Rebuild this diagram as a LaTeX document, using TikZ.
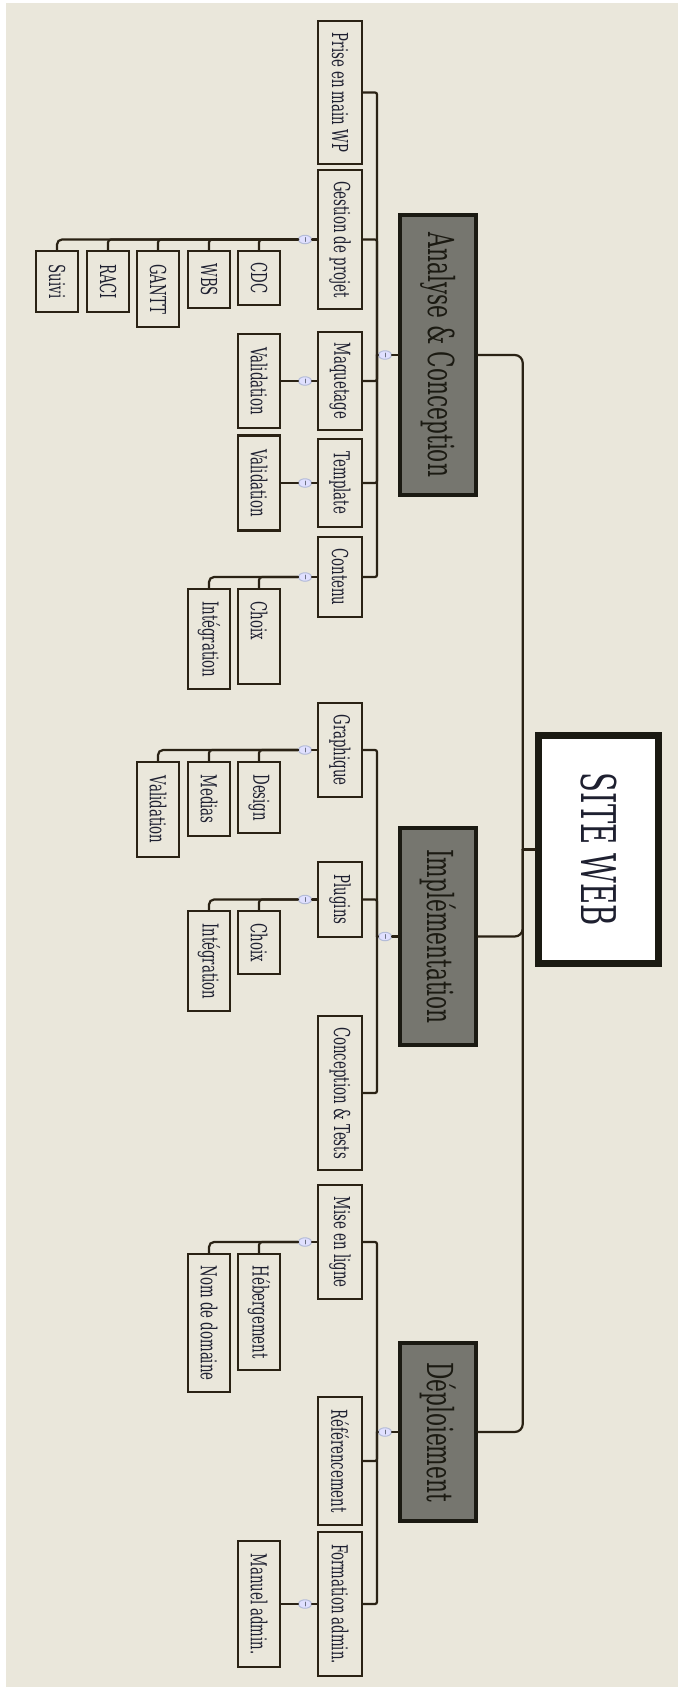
\documentclass[tikz,border=0pt]{standalone}
\usepackage{fontspec}
\setmainfont{DejaVu Serif}
\usepackage{graphicx}
\usepackage{xcolor}
\definecolor{paper}{HTML}{EAE7DB}
\definecolor{inkbrown}{HTML}{2A2214}
\definecolor{phasegrey}{HTML}{76766F}
\definecolor{phaseline}{HTML}{1B1A12}
\definecolor{textblue}{HTML}{1E2030}
\definecolor{knobline}{HTML}{B4BCD8}
\usetikzlibrary{positioning,shapes.geometric}
\newcommand{\vt}[1]{\rotatebox{-90}{\scalebox{1}[1.65]{#1}}}

\begin{document}
\begin{tikzpicture}[x=1pt, y=-1pt, line cap=round, link/.style={draw=inkbrown, line width=2.2pt},]
   \tikzstyle{every node}=[inner sep=0pt, text=textblue]
   \tikzstyle{topic}=[rectangle, draw=phaseline, line width=7.5pt, fill=white, minimum width=120, font=\fontsize{29}{34}\selectfont]
   \tikzstyle{phase}=[rectangle, draw=phaseline, line width=4pt, fill=phasegrey, minimum width=76, text=phaseline, font=\fontsize{21.7}{26}\selectfont]
   \tikzstyle{task}=[rectangle, draw=inkbrown, line width=2.4pt, minimum width=43.5, font=\fontsize{13.3}{16}\selectfont]
   \tikzstyle{leaf}=[task, minimum width=42.5]
   \tikzstyle{knob}=[ellipse, draw=knobline, fill=white!88!blue, line width=1pt, minimum width=13pt, minimum height=8.5pt, path picture={\draw[knobline!60!black, line width=.9pt] ([yshift=-2pt]path picture bounding box.center) -- ([yshift=2pt]path picture bounding box.center);}]

   \useasboundingbox (0,0) rectangle (678,1687);
   \fill[white] (0,0) rectangle (678,1687);
   \fill[paper] (6,3) rectangle (678,1687);

   % root and phases
   \node[topic, minimum height=228] (site) at (598.5,849.5) {\vt{SITE WEB}};
   \node[phase, minimum height=280] (analyse) at (438,355) {\vt{Analyse \& Conception}};
   \node[phase, minimum height=217] (impl) at (438,936.5) {\vt{Implémentation}};
   \node[phase, minimum height=178] (deploi) at (438,1432) {\vt{Déploiement}};

   \node[knob] (adot) at (385,355) {};
   \node[knob] (idot) at (385,936.5) {};
   \node[knob] (ddot) at (385,1432) {};

   % tasks
   \node[task, minimum height=143] (prise) at (340,92.5) {\vt{Prise en main WP}};
   \node[task, minimum height=139] (gestion) at (340,239.5) {\vt{Gestion de projet}};
   \node[task, minimum height=98] (maquette) at (340,381) {\vt{Maquetage}};
   \node[task, minimum height=88] (template) at (340,483) {\vt{Template}};
   \node[task, minimum height=80] (contenu) at (340,577) {\vt{Contenu}};
   \node[task, minimum height=94] (graphique) at (340,750) {\vt{Graphique}};
   \node[task, minimum height=75] (plugins) at (340,899.5) {\vt{Plugins}};
   \node[task, minimum height=154] (conctests) at (340,1093) {\vt{Conception \& Tests}};
   \node[task, minimum height=114] (miseligne) at (340,1242) {\vt{Mise en ligne}};
   \node[task, minimum height=128] (referenc) at (340,1461) {\vt{Référencement}};
   \node[task, minimum height=144] (formation) at (340,1604) {\vt{Formation admin.}};

   \node[knob] (gdot) at (305,239.5) {};
   \node[knob] (mdot) at (305,381) {};
   \node[knob] (tdot) at (305,483) {};
   \node[knob] (cdot) at (305,577) {};
   \node[knob] (grdot) at (305,750) {};
   \node[knob] (pdot) at (305,899.5) {};
   \node[knob] (mldot) at (305,1242) {};
   \node[knob] (fdot) at (305,1604) {};

   % leaves
   \node[leaf, anchor=north, minimum height=54] (cdc) at (259,250) {\vt{CDC}};
   \node[leaf, anchor=north, minimum height=57] (wbs) at (209,250) {\vt{WBS}};
   \node[leaf, anchor=north, minimum height=76] (gantt) at (158,250) {\vt{GANTT}};
   \node[leaf, anchor=north, minimum height=61] (raci) at (108,250) {\vt{RACI}};
   \node[leaf, anchor=north, minimum height=61] (suivi) at (57,250) {\vt{Suivi}};
   \node[leaf, minimum height=94] (maqvalid) at (259,381) {\vt{Validation}};
   \node[leaf, minimum height=95] (tplvalid) at (259,483) {\vt{Validation}};
   \node[leaf, anchor=north, minimum height=95] (ctchoix) at (259,588) {\vt{\makebox[70pt][l]{Choix}}};
   \node[leaf, anchor=north, minimum height=100] (ctinteg) at (209,588) {\vt{Intégration}};
   \node[leaf, anchor=north, minimum height=71] (design) at (259,761) {\vt{Design}};
   \node[leaf, anchor=north, minimum height=74] (medias) at (209,761) {\vt{Medias}};
   \node[leaf, anchor=north, minimum height=95] (grvalid) at (158,761) {\vt{Validation}};
   \node[leaf, anchor=north, minimum height=63] (plchoix) at (259,910) {\vt{Choix}};
   \node[leaf, anchor=north, minimum height=100] (plinteg) at (209,910) {\vt{Intégration}};
   \node[leaf, anchor=north, minimum height=116] (heberg) at (259,1253) {\vt{Hébergement}};
   \node[leaf, anchor=north, minimum height=138] (nomdom) at (209,1253) {\vt{Nom de domaine}};
   \node[leaf, minimum height=126] (manuel) at (259,1604) {\vt{Manuel admin.}};

   % root to phases
   \draw[link] (site.west) -- ++(-12,0) coordinate (rj);
   \draw[link, rounded corners=8pt] (rj) |- (analyse.east);
   \draw[link, rounded corners=8pt] (rj) |- (impl.east);
   \draw[link, rounded corners=8pt] (rj) |- (deploi.east);

   % phases to tasks
   \draw[link] (analyse.west) -- (adot);
   \draw[link] (adot) -- ++(-8,0) coordinate (aj);
   \foreach \t in {prise,gestion,maquette,template,contenu}
      \draw[link, rounded corners=2pt] (\t.east) -| (aj);
   \draw[link] (impl.west) -- (idot);
   \draw[link] (idot) -- ++(-8,0) coordinate (ij);
   \foreach \t in {graphique,plugins,conctests}
      \draw[link, rounded corners=2pt] (\t.east) -| (ij);
   \draw[link] (deploi.west) -- (ddot);
   \draw[link] (ddot) -- ++(-8,0) coordinate (dj);
   \foreach \t in {miseligne,referenc,formation}
      \draw[link, rounded corners=2pt] (\t.east) -| (dj);

   % tasks to leaves
   \foreach \t/\d in {gestion/gdot,maquette/mdot,template/tdot,contenu/cdot,graphique/grdot,plugins/pdot,miseligne/mldot,formation/fdot}
      \draw[link] (\t.west) -- (\d);
   \draw[link] (mdot) -- (maqvalid.east);
   \draw[link] (tdot) -- (tplvalid.east);
   \draw[link] (fdot) -- (manuel.east);
   \draw[link, rounded corners=5pt] (gdot) -| (suivi.north);
   \foreach \l in {cdc,wbs,gantt,raci}
      \draw[link, rounded corners=3pt] (\l.north) |- (gdot);
   \draw[link, rounded corners=5pt] (cdot) -| (ctinteg.north);
   \draw[link, rounded corners=3pt] (ctchoix.north) |- (cdot);
   \draw[link, rounded corners=5pt] (grdot) -| (grvalid.north);
   \foreach \l in {design,medias}
      \draw[link, rounded corners=3pt] (\l.north) |- (grdot);
   \draw[link, rounded corners=5pt] (pdot) -| (plinteg.north);
   \draw[link, rounded corners=3pt] (plchoix.north) |- (pdot);
   \draw[link, rounded corners=5pt] (mldot) -| (nomdom.north);
   \draw[link, rounded corners=3pt] (heberg.north) |- (mldot);
\end{tikzpicture}
\end{document}
